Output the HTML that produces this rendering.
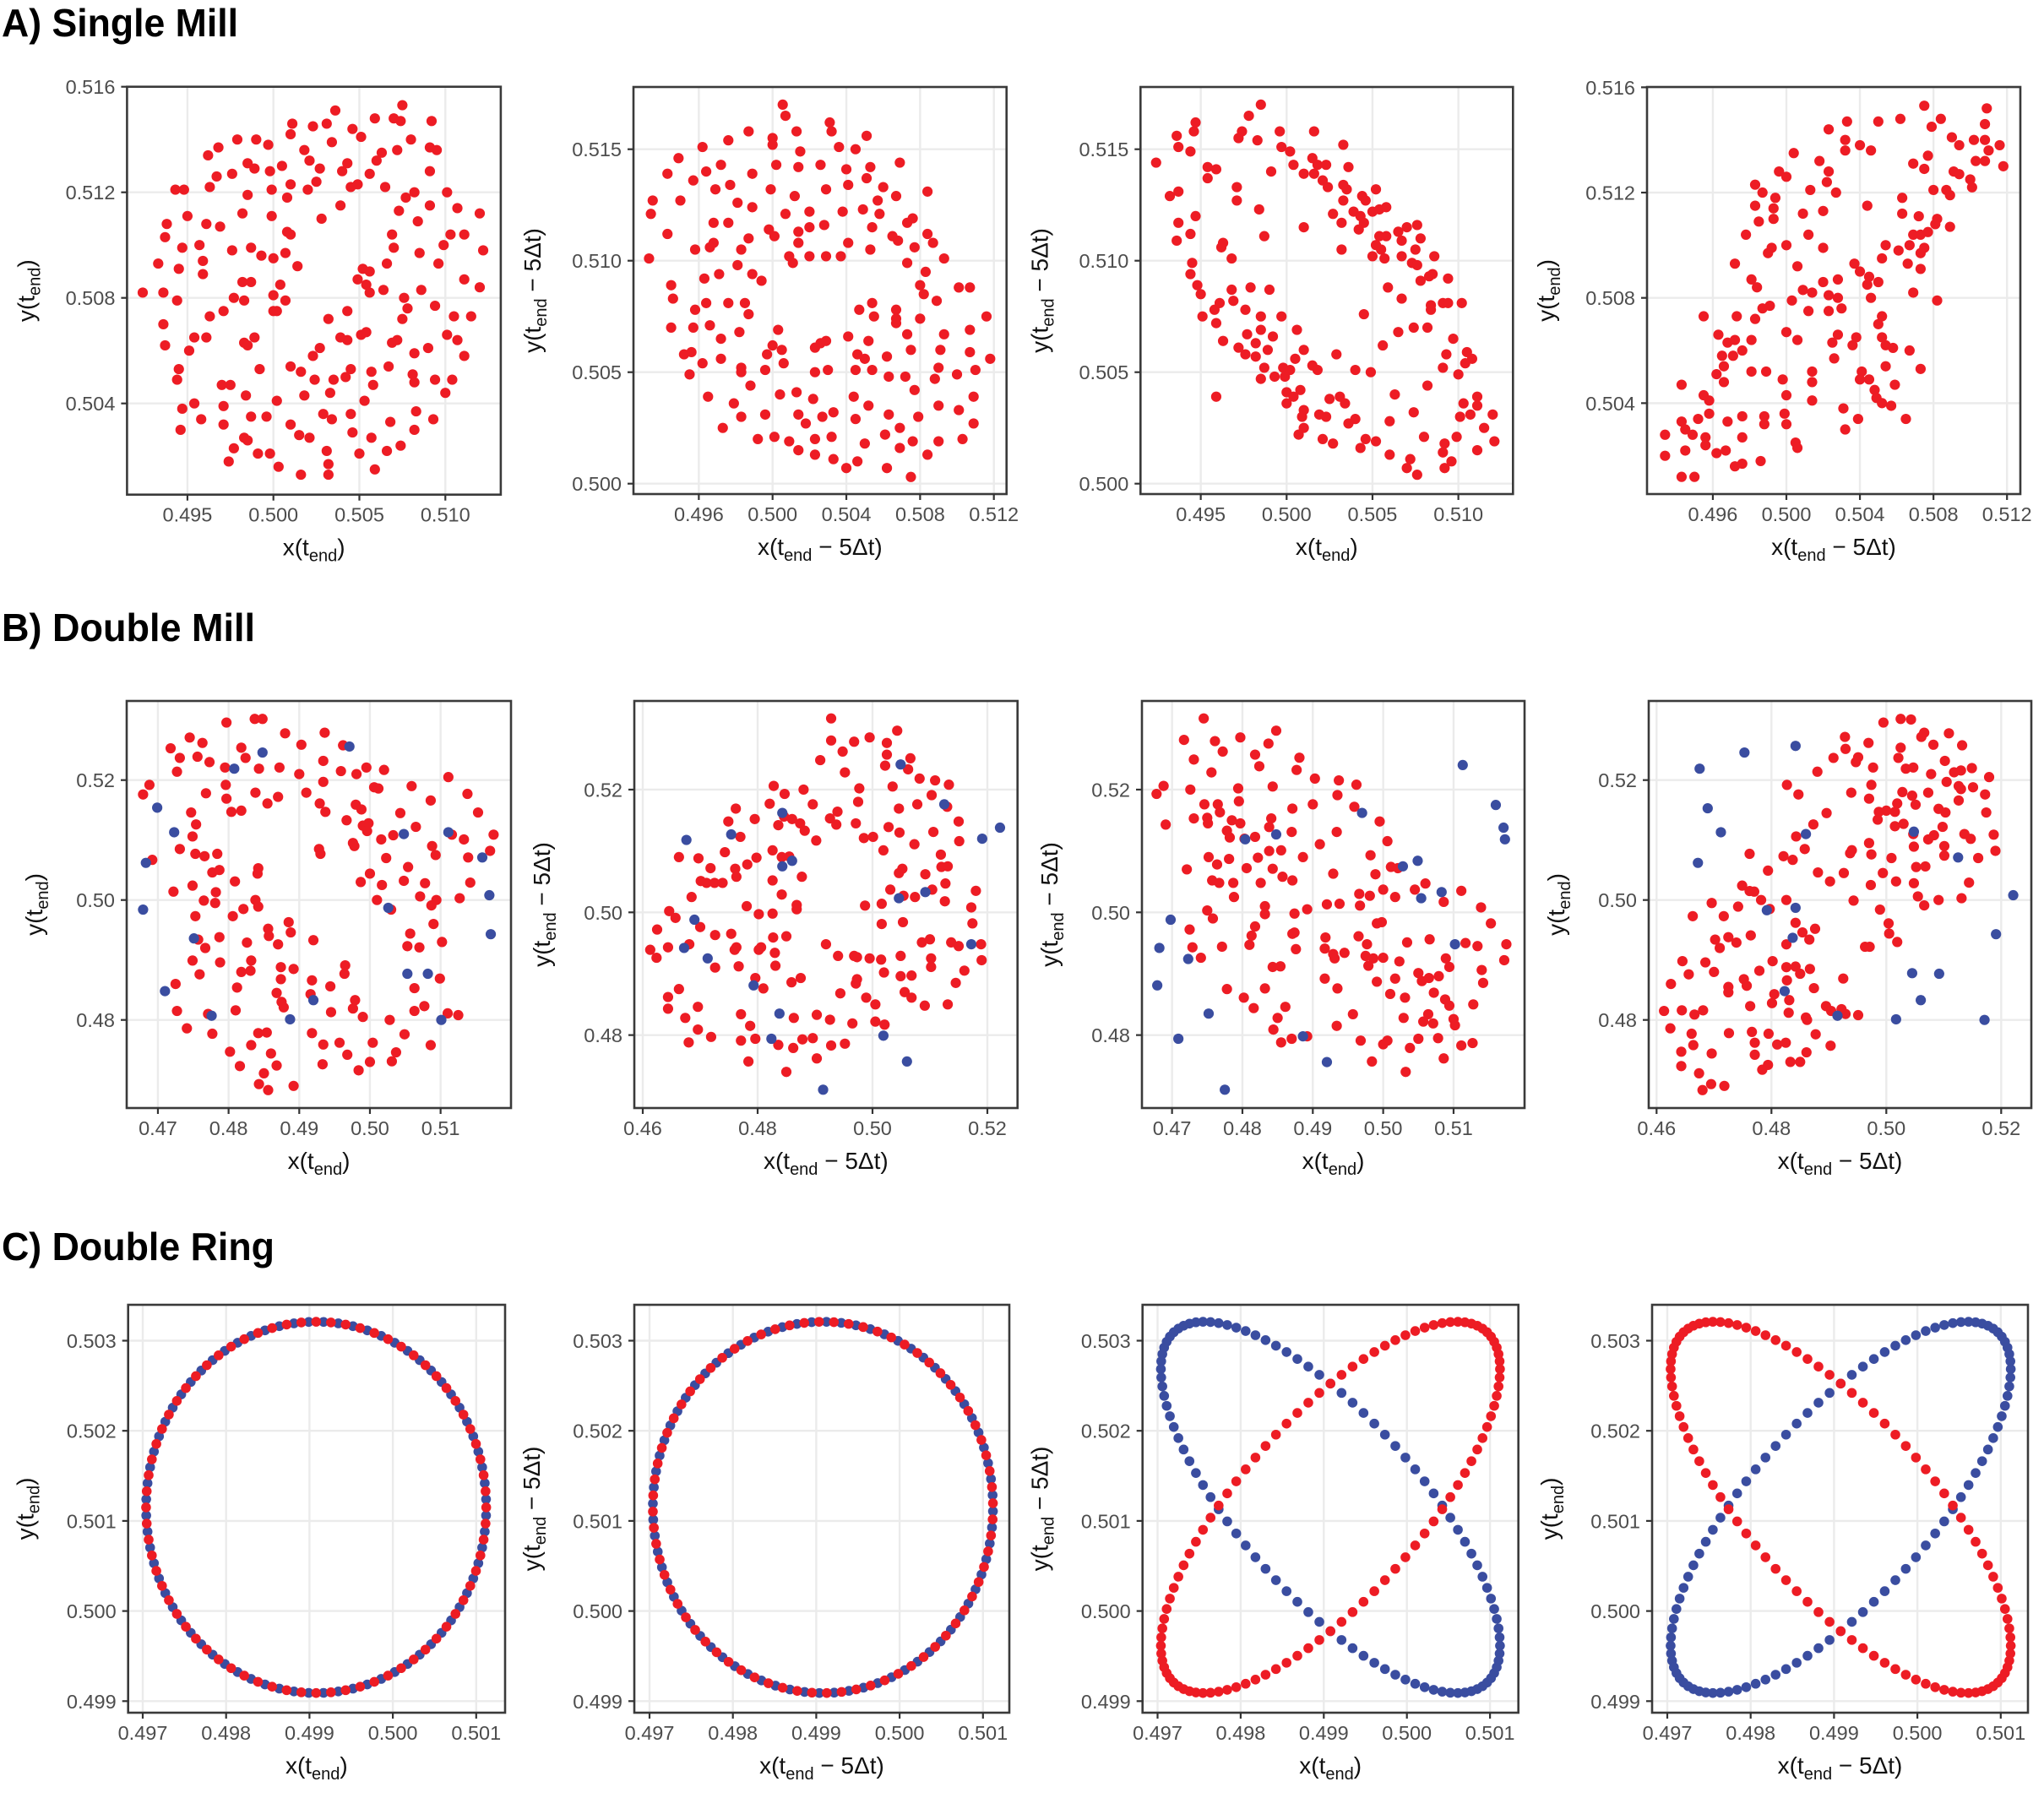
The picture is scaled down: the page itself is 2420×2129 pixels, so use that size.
<!DOCTYPE html>
<html><head><meta charset="utf-8"><style>
html,body{margin:0;padding:0;background:#fff}
svg{display:block}
text{font-family:"Liberation Sans",Arial,sans-serif}
</style></head><body>
<svg id="fig" width="2420" height="2129" viewBox="0 0 2420 2129" xmlns="http://www.w3.org/2000/svg">
<rect x="0" y="0" width="2420" height="2129" fill="#fff"/>
<text x="2" y="43" font-size="46" font-weight="bold" textLength="280" lengthAdjust="spacingAndGlyphs">A) Single Mill</text>
<text x="2" y="759" font-size="46" font-weight="bold" textLength="300" lengthAdjust="spacingAndGlyphs">B) Double Mill</text>
<text x="2" y="1492" font-size="46" font-weight="bold" textLength="323" lengthAdjust="spacingAndGlyphs">C) Double Ring</text>
<g id="panels"></g>
</svg>
<script>
// ---------- DATA ----------
const a1Red=[[.4924,.5082],[.4933,.5093],[.4936,.5082],[.4936,.5070],[.4937,.5062],[.4937,.5103],[.4938,.5108],[.4944,.5079],[.4945,.5091],[.4947,.5099],[.4943,.5121],[.4948,.5121],[.4950,.5111],[.4945,.5053],[.4944,.5049],[.4947,.5038],[.4946,.5030],[.4954,.5040],[.4958,.5034],[.4951,.5060],[.4954,.5065],[.4961,.5065],[.4963,.5073],[.4959,.5089],[.4959,.5094],[.4957,.5100],[.4961,.5108],[.4963,.5122],[.4962,.5134],[.4968,.5137],[.4967,.5126],[.4969,.5107],[.4976,.5098],[.4976,.5127],[.4979,.5140],[.4985,.5131],[.4989,.5129],[.4985,.5119],[.4982,.5112],[.4990,.5140],[.4997,.5138],[.4998,.5128],[.4999,.5121],[.4999,.5111],[.4987,.5099],[.4993,.5096],[.5000,.5095],[.5007,.5097],[.5005,.5130],[.5010,.5142],[.5011,.5146],[.5010,.5123],[.5008,.5118],[.5008,.5105],[.5010,.5104],[.5014,.5092],[.5018,.5136],[.5023,.5145],[.5021,.5132],[.5027,.5129],[.5025,.5124],[.5020,.5121],[.5028,.5110],[.5031,.5146],[.5034,.5139],[.5036,.5151],[.5039,.5115],[.5040,.5128],[.5043,.5131],[.5046,.5144],[.5051,.5141],[.5045,.5122],[.5049,.5123],[.5056,.5127],[.5060,.5132],[.5063,.5135],[.5059,.5148],[.5065,.5122],[.5070,.5148],[.5074,.5147],[.5075,.5153],[.5072,.5136],[.5080,.5140],[.5077,.5118],[.5082,.5120],[.5073,.5113],[.5069,.5104],[.5070,.5099],[.5084,.5109],[.5091,.5137],[.5095,.5136],[.5092,.5147],[.5091,.5128],[.5091,.5115],[.5101,.5120],[.5107,.5114],[.5120,.5112],[.5103,.5104],[.5111,.5104],[.5099,.5100],[.5096,.5093],[.5122,.5098],[.5111,.5087],[.5120,.5084],[.5086,.5083],[.5085,.5097],[.5066,.5093],[.5064,.5083],[.5052,.5091],[.5056,.5090],[.5049,.5087],[.5054,.5085],[.5056,.5082],[.5076,.5080],[.5078,.5076],[.5075,.5072],[.5069,.5063],[.5072,.5064],[.5094,.5077],[.5105,.5073],[.5115,.5073],[.5101,.5066],[.5107,.5064],[.5111,.5058],[.5090,.5061],[.5082,.5059],[.5081,.5051],[.5082,.5048],[.5094,.5049],[.5104,.5049],[.5100,.5044],[.5083,.5037],[.5093,.5034],[.5082,.5030],[.5074,.5024],[.5066,.5022],[.5068,.5033],[.5067,.5054],[.5057,.5052],[.5058,.5047],[.5053,.5041],[.5051,.5066],[.5054,.5067],[.5043,.5075],[.5043,.5064],[.5039,.5065],[.5045,.5053],[.5042,.5050],[.5045,.5036],[.5046,.5029],[.5057,.5027],[.5050,.5021],[.5059,.5015],[.5035,.5049],[.5033,.5044],[.5032,.5072],[.5027,.5061],[.5023,.5058],[.5024,.5049],[.5018,.5043],[.5016,.5052],[.5010,.5054],[.5002,.5041],[.4996,.5035],[.4987,.5035],[.4984,.5043],[.4975,.5047],[.4971,.5039],[.4971,.5032],[.4970,.5047],[.4977,.5023],[.4974,.5018],[.4983,.5027],[.4985,.5026],[.4991,.5021],[.4998,.5021],[.5003,.5016],[.5010,.5032],[.5015,.5028],[.5021,.5027],[.5029,.5036],[.5034,.5034],[.5031,.5022],[.5032,.5017],[.5032,.5013],[.5016,.5013],[.4992,.5053],[.4989,.5065],[.4983,.5063],[.4985,.5062],[.4983,.5079],[.4977,.5080],[.4971,.5075],[.4982,.5086],[.4987,.5086],[.5000,.5081],[.5000,.5075],[.5002,.5075],[.5004,.5085],[.5007,.5079]];
const a2Red=[[.50055,.5170],[.5007,.5165],[.4987,.5158],[.4976,.5154],[.4962,.5151],[.4949,.5146],[.4943,.5139],[.4935,.5127],[.4934,.5121],[.4943,.5112],[.4933,.5101],[.4957,.5136],[.4950,.5127],[.4964,.5140],[.4972,.5143],[.4969,.5132],[.4977,.5134],[.4981,.5126],[.4989,.5139],[.4989,.5124],[.4968,.5117],[.4976,.5117],[.4968,.5108],[.4966,.5106],[.4958,.5105],[.4983,.5105],[.4987,.5110],[.4981,.5098],[.4971,.5094],[.4963,.5092],[.4989,.5094],[.4994,.5091],[.4945,.5089],[.4946,.5083],[.4958,.5078],[.4964,.5081],[.4976,.5081],[.4985,.5081],[.4987,.5076],[.4945,.5070],[.4957,.5070],[.4966,.5071],[.4982,.5068],[.4972,.5065],[.4952,.5058],[.4956,.5059],[.4962,.5054],[.4972,.5056],[.4983,.5052],[.4983,.5050],[.4955,.5049],[.4996,.5051],[.4997,.5058],[.5000,.5062],[.5003,.5069],[.5005,.5060],[.5006,.5054],[.4988,.5044],[.4965,.5039],[.4979,.5036],[.4983,.5030],[.4973,.5025],[.4996,.5031],[.4992,.5020],[.5001,.5021],[.5004,.5040],[.5013,.5041],[.5022,.5038],[.5014,.5031],[.5018,.5027],[.5009,.5019],[.5014,.5015],[.5023,.5020],[.5023,.5013],[.5027,.5030],[.5033,.5032],[.5032,.5021],[.5033,.5011],[.5040,.5007],[.5046,.5010],[.5050,.5018],[.5045,.5029],[.5044,.5039],[.5052,.5035],[.5063,.5031],[.5061,.5022],[.5062,.5007],[.5069,.5025],[.5069,.5016],[.5075,.5003],[.5076,.5019],[.5079,.5030],[.5077,.5042],[.5084,.5013],[.5090,.5019],[.5090,.5035],[.5088,.5047],[.5090,.5052],[.5091,.5060],[.5093,.5067],[.5101,.5033],[.5103,.5020],[.5109,.5027],[.5109,.5039],[.5100,.5049],[.5110,.5051],[.5107,.5059],[.5118,.5056],[.5107,.5069],[.5116,.5075],[.5075,.5060],[.5072,.5048],[.5063,.5048],[.5062,.5057],[.5054,.5051],[.5050,.5056],[.5046,.5058],[.5045,.5051],[.5052,.5064],[.5041,.5066],[.5023,.5061],[.5026,.5063],[.5029,.5064],[.5023,.5050],[.5030,.5051],[.5047,.5078],[.5054,.5081],[.5055,.5075],[.5067,.5078],[.5067,.5074],[.5067,.5072],[.5073,.5067],[.5080,.5074],[.5080,.5089],[.5082,.5085],[.5089,.5082],[.5083,.5095],[.5073,.5099],[.5077,.5106],[.5093,.5101],[.5101,.5088],[.5107,.5088],[.5065,.5111],[.5068,.5109],[.5073,.5117],[.5076,.5119],[.5084,.5112],[.5087,.5108],[.5084,.5131],[.5067,.5129],[.5069,.5144],[.5060,.5133],[.5057,.5127],[.5058,.5121],[.5054,.5115],[.5053,.5105],[.5051,.5137],[.5053,.5142],[.5051,.5156],[.5045,.5150],[.5036,.5151],[.5031,.5162],[.5032,.5158],[.5040,.5141],[.5041,.5134],[.5029,.5132],[.5026,.5143],[.5038,.5122],[.5049,.5123],[.5041,.5108],[.5037,.5102],[.5029,.5102],[.5020,.5102],[.5028,.5116],[.5020,.5122],[.5020,.5115],[.5014,.5113],[.5014,.5108],[.5009,.5102],[.5011,.5099],[.5007,.5121],[.5012,.5129],[.5014,.5142],[.5015,.5149],[.5013,.5158],[.5002,.5143],[.4999,.5132],[.5000,.5155],[.5000,.5152],[.4998,.5114],[.5001,.5111]];
const a3Red=[[.4985,.5170],[.4978,.5165],[.4947,.5162],[.4946,.5158],[.4936,.5156],[.4937,.5151],[.4944,.5149],[.4924,.5144],[.4954,.5142],[.4959,.5141],[.4954,.5137],[.4974,.5158],[.4972,.5155],[.4983,.5154],[.4991,.5140],[.4996,.5158],[.4997,.5151],[.5002,.5149],[.5004,.5143],[.5010,.5139],[.5016,.5158],[.5015,.5146],[.5018,.5143],[.5023,.5143],[.5016,.5139],[.5021,.5136],[.5024,.5133],[.5033,.5134],[.5035,.5132],[.5036,.5142],[.5033,.5152],[.5033,.5127],[.5044,.5129],[.5046,.5127],[.5052,.5132],[.5027,.5121],[.5032,.5117],[.5039,.5122],[.5043,.5120],[.5045,.5117],[.5042,.5114],[.5050,.5122],[.5054,.5123],[.5058,.5124],[.5010,.5115],[.5032,.5105],[.5054,.5111],[.5058,.5111],[.5052,.5107],[.5055,.5105],[.5050,.5102],[.5057,.5101],[.5065,.5113],[.5070,.5115],[.5076,.5116],[.5078,.5110],[.5067,.5109],[.5067,.5102],[.5075,.5105],[.5073,.5099],[.5076,.5098],[.5086,.5102],[.5078,.5091],[.5083,.5093],[.5085,.5094],[.5094,.5092],[.5059,.5088],[.5067,.5083],[.5084,.5080],[.5084,.5078],[.5091,.5081],[.5094,.5081],[.5102,.5081],[.5045,.5076],[.5065,.5068],[.5074,.5070],[.5082,.5070],[.5056,.5062],[.5097,.5065],[.5093,.5058],[.5105,.5059],[.5108,.5056],[.5104,.5054],[.5091,.5052],[.5100,.5049],[.5029,.5058],[.5040,.5051],[.5049,.5050],[.5082,.5044],[.5063,.5040],[.5074,.5032],[.5103,.5036],[.5111,.5039],[.5111,.5035],[.5101,.5030],[.5107,.5031],[.5120,.5031],[.5115,.5025],[.5121,.5019],[.5099,.5021],[.5111,.5015],[.5092,.5018],[.5091,.5014],[.5096,.5010],[.5092,.5007],[.5080,.5021],[.5072,.5011],[.5070,.5007],[.5076,.5004],[.5060,.5013],[.5060,.5028],[.5052,.5019],[.5046,.5020],[.5043,.5016],[.5040,.5029],[.5036,.5027],[.5034,.5036],[.5031,.5039],[.5025,.5038],[.5019,.5031],[.5023,.5030],[.5021,.5020],[.5027,.5018],[.5010,.5033],[.5009,.5030],[.5010,.5025],[.5007,.5022],[.5008,.5042],[.5000,.5041],[.5004,.5039],[.5000,.5036],[.5010,.5060],[.5015,.5053],[.5018,.5051],[.5005,.5056],[.4998,.5052],[.5002,.5051],[.4999,.5048],[.4993,.5048],[.4987,.5052],[.4985,.5047],[.5006,.5069],[.4997,.5075],[.4992,.5066],[.4989,.5060],[.4982,.5057],[.4982,.5063],[.4985,.5069],[.4985,.5075],[.4977,.5067],[.4976,.5058],[.4972,.5061],[.4963,.5064],[.4959,.5039],[.4959,.5072],[.4951,.5075],[.4958,.5078],[.4961,.5081],[.4969,.5082],[.4976,.5078],[.4968,.5087],[.4979,.5088],[.4990,.5087],[.4950,.5085],[.4948,.5089],[.4944,.5094],[.4945,.5099],[.4968,.5101],[.4962,.5106],[.4963,.5108],[.4936,.5109],[.4944,.5112],[.4937,.5117],[.4947,.5120],[.4932,.5129],[.4937,.5131],[.4971,.5133],[.4971,.5127],[.4984,.5123],[.4987,.5111]];
const a4Red=[[.5075,.5153],[.5109,.5152],[.5108,.5146],[.5084,.5148],[.5079,.5145],[.5062,.5148],[.5050,.5147],[.5033,.5147],[.5023,.5144],[.5032,.5140],[.5032,.5136],[.5040,.5138],[.5046,.5136],[.5090,.5141],[.5094,.5138],[.5102,.5140],[.5108,.5140],[.5110,.5136],[.5116,.5138],[.5118,.5130],[.5103,.5132],[.5108,.5132],[.5077,.5134],[.5069,.5131],[.5075,.5129],[.5091,.5128],[.5094,.5127],[.5100,.5125],[.5101,.5122],[.5080,.5121],[.5087,.5121],[.5089,.5119],[.5004,.5135],[.5018,.5132],[.5023,.5128],[.5022,.5124],[.5027,.5120],[.5013,.5121],[.4996,.5128],[.5000,.5126],[.4983,.5123],[.4987,.5120],[.4994,.5118],[.4983,.5115],[.4993,.5114],[.4993,.5110],[.4985,.5109],[.5009,.5112],[.5020,.5113],[.5012,.5104],[.4978,.5104],[.5000,.5100],[.4990,.5097],[.4992,.5099],[.5020,.5099],[.5044,.5115],[.5063,.5118],[.5063,.5112],[.5072,.5111],[.5082,.5110],[.5081,.5108],[.5089,.5107],[.5077,.5105],[.5069,.5104],[.5073,.5104],[.5067,.5100],[.5075,.5099],[.5073,.5097],[.5054,.5100],[.5052,.5095],[.5061,.5098],[.5066,.5093],[.5073,.5091],[.5037,.5093],[.5040,.5090],[.5045,.5088],[.5044,.5085],[.5050,.5086],[.5046,.5080],[.5069,.5082],[.5082,.5079],[.5028,.5087],[.5020,.5086],[.5009,.5083],[.5014,.5082],[.5023,.5081],[.5028,.5080],[.5030,.5076],[.5023,.5075],[.5012,.5075],[.5003,.5079],[.5006,.5092],[.4972,.5093],[.4981,.5087],[.4984,.5084],[.4991,.5077],[.4987,.5076],[.4983,.5072],[.4973,.5073],[.4955,.5073],[.4963,.5066],[.4968,.5063],[.4972,.5064],[.4976,.5060],[.4981,.5064],[.4965,.5058],[.4971,.5058],[.4966,.5054],[.4962,.5051],[.4966,.5048],[.4981,.5052],[.4989,.5052],[.4943,.5047],[.4955,.5043],[.4958,.5041],[.4958,.5036],[.4952,.5034],[.4943,.5033],[.4945,.5030],[.4949,.5028],[.4934,.5028],[.4934,.5020],[.4945,.5022],[.4956,.5027],[.4956,.5024],[.4962,.5021],[.4967,.5022],[.4968,.5033],[.4976,.5035],[.4976,.5027],[.4972,.5016],[.4976,.5017],[.4986,.5018],[.4943,.5012],[.4950,.5012],[.4988,.5035],[.4988,.5032],[.4999,.5036],[.5000,.5032],[.5005,.5025],[.5006,.5023],[.4998,.5049],[.5000,.5043],[.5014,.5041],[.5014,.5052],[.5014,.5048],[.5000,.5067],[.5006,.5064],[.5026,.5057],[.5025,.5063],[.5028,.5066],[.5038,.5065],[.5036,.5062],[.5031,.5038],[.5032,.5030],[.5039,.5034],[.5041,.5052],[.5040,.5049],[.5045,.5049],[.5048,.5045],[.5049,.5042],[.5052,.5040],[.5057,.5039],[.5059,.5047],[.5065,.5034],[.5054,.5054],[.5073,.5053],[.5067,.5060],[.5058,.5061],[.5054,.5062],[.5052,.5065],[.5050,.5070],[.5052,.5073]];

const b1Red=[[.4797,.5296],[.4837,.5302],[.4848,.5302],[.4880,.5278],[.4936,.5279],[.4903,.5259],[.4962,.5258],[.4745,.5271],[.4763,.5262],[.4718,.5253],[.4731,.5237],[.4756,.5239],[.4773,.5230],[.4727,.5214],[.4818,.5254],[.4824,.5237],[.4795,.5221],[.4843,.5219],[.4872,.5221],[.4900,.5210],[.4934,.5232],[.4934,.5197],[.4959,.5215],[.4981,.5210],[.4995,.5221],[.5020,.5217],[.4688,.5192],[.4679,.5176],[.4768,.5178],[.4796,.5192],[.4797,.5169],[.4804,.5147],[.4818,.5149],[.4838,.5179],[.4855,.5161],[.4870,.5172],[.4910,.5179],[.4929,.5161],[.4937,.5147],[.4967,.5133],[.4980,.5159],[.4988,.5151],[.5006,.5188],[.5012,.5186],[.5059,.5190],[.5111,.5205],[.5138,.5177],[.5086,.5166],[.5153,.5146],[.5043,.5145],[.5065,.5122],[.5033,.5108],[.5016,.5101],[.4990,.5124],[.4998,.5128],[.4996,.5115],[.4976,.5095],[.4978,.5090],[.4928,.5085],[.4930,.5077],[.5116,.5109],[.5133,.5101],[.5175,.5109],[.5170,.5082],[.5139,.5071],[.5088,.5090],[.5093,.5075],[.5023,.5070],[.5054,.5055],[.5000,.5044],[.4987,.5030],[.5017,.5025],[.5048,.5032],[.5078,.5028],[.5142,.5029],[.5071,.5006],[.5094,.5000],[.5087,.4991],[.5127,.5003],[.5010,.5000],[.5030,.4984],[.5090,.4960],[.5057,.4944],[.5053,.4923],[.5070,.4921],[.5102,.4930],[.5099,.4869],[.5063,.4853],[.5077,.4823],[.5063,.4815],[.5110,.4811],[.5125,.4808],[.5049,.4776],[.5086,.4758],[.5037,.4746],[.5031,.4731],[.5028,.4800],[.5000,.4730],[.5004,.4762],[.4984,.4716],[.4968,.4742],[.4957,.4762],[.4933,.4726],[.4934,.4759],[.4918,.4778],[.4990,.4805],[.4945,.4813],[.4976,.4819],[.4979,.4833],[.4944,.4856],[.4918,.4866],[.4916,.4843],[.4965,.4891],[.4964,.4877],[.4920,.4933],[.4892,.4885],[.4874,.4888],[.4874,.4868],[.4868,.4845],[.4875,.4830],[.4878,.4821],[.4885,.4963],[.4888,.4946],[.4856,.4952],[.4857,.4940],[.4870,.4926],[.4826,.4929],[.4832,.4899],[.4831,.4882],[.4818,.4880],[.4812,.4854],[.4810,.4816],[.4842,.4778],[.4854,.4779],[.4832,.4758],[.4860,.4744],[.4868,.4724],[.4850,.4711],[.4843,.4693],[.4856,.4683],[.4892,.4690],[.4816,.4723],[.4802,.4747],[.4777,.4777],[.4771,.4810],[.4741,.4786],[.4727,.4815],[.4725,.4860],[.4759,.4876],[.4749,.4899],[.4788,.4896],[.4767,.4920],[.4757,.4934],[.4787,.4938],[.4753,.4973],[.4806,.4973],[.4821,.4985],[.4838,.5000],[.4842,.4989],[.4765,.4999],[.4781,.4995],[.4782,.5013],[.4749,.5024],[.4722,.5014],[.4809,.5031],[.4842,.5053],[.4841,.5044],[.4777,.5046],[.4787,.5050],[.4784,.5077],[.4753,.5077],[.4766,.5073],[.4731,.5085],[.4749,.5106],[.4754,.5126],[.4747,.5146],[.4692,.5067]];
const b1Blue=[[.4848,.5246],[.4808,.5219],[.4971,.5256],[.4699,.5154],[.4723,.5113],[.4683,.5062],[.4679,.4984],[.4751,.4936],[.4710,.4848],[.4776,.4807],[.4887,.4801],[.4920,.4833],[.5048,.5110],[.5111,.5113],[.5159,.5071],[.5169,.5008],[.5171,.4943],[.5026,.4987],[.5053,.4877],[.5082,.4877],[.5101,.4800]];
const b2Red=[[.4928,.5316],[.4928,.5280],[.4968,.5278],[.4995,.5285],[.5043,.5296],[.5025,.5276],[.5025,.5257],[.5022,.5239],[.5066,.5251],[.5062,.5233],[.4948,.5262],[.4909,.5248],[.4952,.5228],[.5082,.5218],[.5109,.5215],[.5133,.5208],[.5103,.5191],[.5035,.5205],[.4977,.5202],[.4975,.5180],[.4828,.5206],[.4847,.5193],[.4880,.5200],[.4821,.5177],[.4896,.5176],[.5078,.5176],[.5130,.5172],[.5046,.5169],[.4762,.5169],[.4795,.5152],[.4749,.5148],[.4770,.5123],[.4846,.5156],[.4860,.5152],[.4874,.5145],[.4882,.5133],[.4836,.5142],[.4902,.5117],[.4926,.5153],[.4939,.5164],[.4937,.5143],[.4971,.5145],[.4985,.5121],[.5001,.5123],[.5028,.5139],[.5047,.5130],[.5019,.5101],[.5073,.5111],[.5106,.5131],[.5150,.5148],[.5151,.5116],[.5119,.5094],[.5120,.5074],[.5131,.5075],[.5092,.5062],[.5046,.5064],[.5052,.5071],[.5031,.5037],[.5054,.5027],[.5074,.5025],[.5104,.5037],[.5127,.5047],[.5126,.5018],[.5180,.5035],[.5172,.5008],[.5174,.4982],[.5189,.4948],[.5190,.4922],[.5160,.4905],[.5145,.4885],[.5131,.4850],[.5091,.4848],[.5137,.4951],[.5150,.4945],[.5086,.4951],[.5100,.4956],[.5102,.4925],[.5102,.4911],[.5068,.4897],[.5049,.4896],[.5049,.4929],[.5056,.4870],[.5068,.4861],[.5053,.4984],[.5016,.4981],[.4987,.5011],[.5016,.5014],[.5020,.4902],[.5015,.4923],[.4995,.4925],[.4973,.4927],[.4968,.4929],[.4940,.4929],[.4919,.4948],[.4973,.4891],[.4971,.4884],[.4944,.4868],[.4989,.4861],[.5005,.4850],[.5005,.4822],[.5021,.4817],[.4965,.4819],[.4926,.4825],[.4903,.4833],[.4875,.4893],[.4859,.4886],[.4863,.4828],[.4896,.4795],[.4878,.4793],[.4862,.4779],[.4836,.4784],[.4928,.4783],[.4952,.4786],[.4903,.4762],[.4850,.4740],[.4784,.4757],[.4796,.4794],[.4771,.4791],[.4771,.4834],[.4787,.4815],[.4719,.4797],[.4680,.4788],[.4696,.4809],[.4696,.4846],[.4674,.4828],[.4644,.4843],[.4644,.4862],[.4663,.4875],[.4810,.4876],[.4796,.4893],[.4767,.4912],[.4726,.4910],[.4831,.4913],[.4830,.4934],[.4802,.4939],[.4806,.4943],[.4760,.4939],[.4763,.4943],[.4754,.4965],[.4726,.4963],[.4700,.4976],[.4681,.4948],[.4644,.4943],[.4624,.4926],[.4613,.4939],[.4625,.4972],[.4646,.5002],[.4657,.4991],[.4685,.5025],[.4701,.5051],[.4711,.5048],[.4725,.5048],[.4739,.5048],[.4718,.5072],[.4697,.5088],[.4663,.5090],[.4743,.5098],[.4761,.5071],[.4763,.5058],[.4782,.5078],[.4798,.5089],[.4826,.5101],[.4842,.5090],[.4855,.5091],[.4826,.5052],[.4842,.5029],[.4877,.5058],[.4868,.5012],[.4868,.5005],[.4781,.5010],[.4802,.4997],[.4826,.4998],[.4827,.4959],[.4850,.4961]];
const b2Blue=[[.4676,.5118],[.4754,.5127],[.4843,.5162],[.4843,.5075],[.4860,.5084],[.4690,.4988],[.4672,.4942],[.4713,.4925],[.4793,.4881],[.4838,.4835],[.4824,.4794],[.4914,.4711],[.5019,.4799],[.5060,.4757],[.5049,.5241],[.5125,.5176],[.5191,.5120],[.5222,.5138],[.5092,.5033],[.5046,.5023],[.5172,.4948]];
const b3Red=[[.4745,.5316],[.4717,.5281],[.4761,.5279],[.4772,.5262],[.4731,.5249],[.4756,.5228],[.4797,.5285],[.4848,.5296],[.4837,.5275],[.4818,.5257],[.4824,.5238],[.4881,.5252],[.4877,.5232],[.4903,.5218],[.4937,.5215],[.4962,.5208],[.4935,.5191],[.4900,.5176],[.4959,.5172],[.4995,.5148],[.5006,.5116],[.4934,.5131],[.4910,.5111],[.4871,.5169],[.4870,.5131],[.4843,.5205],[.4794,.5202],[.4795,.5181],[.4688,.5206],[.4678,.5193],[.4726,.5200],[.4691,.5143],[.4731,.5153],[.4746,.5176],[.4765,.5176],[.4768,.5163],[.4750,.5154],[.4751,.5145],[.4785,.5150],[.4797,.5145],[.4778,.5133],[.4782,.5122],[.4803,.5120],[.4818,.5123],[.4841,.5153],[.4838,.5139],[.4838,.5100],[.4855,.5101],[.4886,.5090],[.4752,.5090],[.4764,.5078],[.4781,.5087],[.4822,.5089],[.4806,.5072],[.4843,.5071],[.4857,.5058],[.4871,.5052],[.4721,.5070],[.4757,.5052],[.4767,.5048],[.4787,.5048],[.4826,.5048],[.4788,.5025],[.4929,.5063],[.4982,.5093],[.4989,.5062],[.5011,.5074],[.5021,.5072],[.5060,.5047],[.5045,.5037],[.5017,.5025],[.5000,.5037],[.4981,.5027],[.4966,.5030],[.4967,.5011],[.4938,.5014],[.4920,.5013],[.4892,.5005],[.4874,.4998],[.4832,.5010],[.4832,.4997],[.4750,.5003],[.4758,.4990],[.5086,.5017],[.5111,.5035],[.5139,.5008],[.5153,.4982],[.5175,.4948],[.5172,.4922],[.5134,.4945],[.5117,.4950],[.5066,.4956],[.5034,.4951],[.5023,.4920],[.5089,.4925],[.5094,.4911],[.5079,.4896],[.5050,.4901],[.5055,.4888],[.5065,.4893],[.5017,.4892],[.4991,.4887],[.5010,.4867],[.5031,.4861],[.5072,.4869],[.5088,.4858],[.5094,.4848],[.5140,.4906],[.5142,.4885],[.5128,.4850],[.5100,.4826],[.5102,.4816],[.5064,.4834],[.5071,.4819],[.5057,.4822],[.5029,.4828],[.5078,.4795],[.5050,.4794],[.5038,.4779],[.5111,.4783],[.5127,.4787],[.5086,.4762],[.5032,.4740],[.4984,.4757],[.5000,.4785],[.5006,.4791],[.4968,.4791],[.4957,.4834],[.4934,.4815],[.4935,.4876],[.4917,.4892],[.4917,.4941],[.4918,.4959],[.4929,.4932],[.4931,.4925],[.4945,.4934],[.4965,.4961],[.4977,.4948],[.4975,.4929],[.4986,.4925],[.5000,.4926],[.4979,.4913],[.4991,.4982],[.4998,.4984],[.4876,.4940],[.4871,.4965],[.4874,.4967],[.4843,.4911],[.4854,.4912],[.4832,.4876],[.4802,.4861],[.4816,.4844],[.4778,.4875],[.4861,.4846],[.4850,.4828],[.4844,.4809],[.4855,.4788],[.4870,.4794],[.4892,.4798],[.4810,.4947],[.4813,.4962],[.4818,.4977],[.4771,.4944],[.4725,.4972],[.4729,.4943],[.4741,.4926]];
const b3Blue=[[.4698,.4988],[.4682,.4942],[.4723,.4924],[.4679,.4881],[.4752,.4835],[.4709,.4794],[.4775,.4711],[.4886,.4798],[.4920,.4756],[.4804,.5119],[.4848,.5127],[.4970,.5162],[.5028,.5075],[.5049,.5084],[.5054,.5023],[.5083,.5033],[.5102,.4948],[.5113,.5240],[.5160,.5175],[.5171,.5138],[.5173,.5119]];
const b4Red=[[.4995,.5296],[.5025,.5302],[.5043,.5301],[.5066,.5279],[.5061,.5272],[.5109,.5278],[.5082,.5259],[.5132,.5258],[.5025,.5254],[.5021,.5237],[.5034,.5219],[.5047,.5221],[.5102,.5232],[.5078,.5210],[.5118,.5213],[.5130,.5216],[.5149,.5220],[.5179,.5205],[.5105,.5197],[.5126,.5190],[.5130,.5185],[.5151,.5188],[.5172,.5176],[.5073,.5179],[.5028,.5180],[.5045,.5174],[.5051,.5159],[.5019,.5161],[.5126,.5166],[.5174,.5146],[.5091,.5152],[.5103,.5146],[.5098,.5122],[.5083,.5108],[.5073,.5101],[.5047,.5110],[.5048,.5089],[.5101,.5090],[.5101,.5074],[.5136,.5110],[.5147,.5102],[.5187,.5109],[.5190,.5082],[.5160,.5070],[.5052,.5055],[.5068,.5056],[.5048,.5028],[.5055,.5006],[.5066,.4991],[.5091,.5000],[.5131,.5003],[.5144,.5029],[.5017,.5031],[.4994,.5045],[.5009,.5070],[.4974,.5076],[.4970,.5095],[.4973,.5025],[.4940,.5083],[.4937,.5078],[.4926,.5045],[.4902,.5031],[.4881,.5046],[.4943,.4999],[.4989,.4984],[.5004,.4961],[.5005,.4944],[.5019,.4930],[.4971,.4922],[.4963,.4922],[.4987,.5147],[.5000,.5149],[.5015,.5147],[.4985,.5134],[.5015,.5123],[.5030,.5127],[.4977,.5221],[.4969,.5262],[.4928,.5272],[.4929,.5252],[.4951,.5238],[.4947,.5230],[.4908,.5237],[.4880,.5214],[.4974,.5192],[.4970,.5169],[.4939,.5179],[.4827,.5192],[.4847,.5176],[.4896,.5145],[.4873,.5126],[.4843,.5106],[.4858,.5085],[.4821,.5073],[.4837,.5067],[.4794,.5049],[.4762,.5077],[.4749,.5024],[.4762,.5015],[.4770,.5014],[.4782,.5000],[.4797,.4985],[.4826,.5000],[.4742,.4989],[.4696,.4995],[.4663,.4973],[.4717,.4973],[.4842,.4962],[.4854,.4946],[.4876,.4952],[.4866,.4934],[.4826,.4926],[.4764,.4941],[.4725,.4938],[.4739,.4929],[.4702,.4934],[.4710,.4920],[.4645,.4898],[.4656,.4876],[.4685,.4896],[.4700,.4880],[.4625,.4860],[.4779,.4882],[.4802,.4898],[.4826,.4888],[.4842,.4889],[.4850,.4877],[.4867,.4885],[.4827,.4866],[.4752,.4868],[.4757,.4857],[.4725,.4855],[.4725,.4846],[.4805,.4843],[.4801,.4828],[.4831,.4833],[.4830,.4812],[.4874,.4853],[.4925,.4869],[.4895,.4823],[.4904,.4815],[.4922,.4818],[.4929,.4810],[.4951,.4808],[.4860,.4804],[.4862,.4800],[.4763,.4823],[.4681,.4816],[.4666,.4809],[.4644,.4816],[.4613,.4815],[.4624,.4786],[.4661,.4777],[.4726,.4778],[.4766,.4780],[.4795,.4777],[.4771,.4762],[.4810,.4759],[.4825,.4762],[.4877,.4776],[.4903,.4757],[.4861,.4746],[.4833,.4730],[.4850,.4730],[.4794,.4725],[.4784,.4717],[.4771,.4742],[.4664,.4758],[.4643,.4747],[.4696,.4744],[.4643,.4723],[.4674,.4711],[.4695,.4693],[.4680,.4683],[.4718,.4690]];
const b4Blue=[[.4675,.5219],[.4753,.5246],[.4842,.5257],[.4689,.5153],[.4712,.5113],[.4672,.5062],[.4860,.5110],[.4792,.4983],[.4842,.4987],[.4837,.4937],[.4823,.4848],[.4915,.4807],[.5017,.4801],[.5045,.4878],[.5092,.4877],[.5060,.4833],[.5171,.4800],[.5191,.4943],[.5221,.5008],[.5048,.5114],[.5125,.5071]];

// Double ring: ring/lissajous parameters (data units)
const ringCenter=[0.49908,0.50115];
const ringRadius=[0.00204,0.00206];
const lagPhase=0.73;
const ringCount=72;
const lissCount=96;

// ---------- PANELS ----------
const RED='#ED1C24', BLUE='#3A4DA0';
function mk(tag,attrs,parent){const e=document.createElementNS('http://www.w3.org/2000/svg',tag);for(const k in attrs)e.setAttribute(k,attrs[k]);if(parent)parent.appendChild(e);return e;}

const lagX=['x(t','end',' \u2212 5\u0394t)'], curX=['x(t','end',')'];
const lagY=['y(t','end',' \u2212 5\u0394t)'], curY=['y(t','end',')'];
const cT=1545,cB=2028,cYp=1587.5,cYk=106700;

const panels=[
 {id:'a1',box:[150.4,592.9,102.7,585.7],xv:.5,xp:323.7,xk:20357,yv:.508,yp:352.7,yk:31250,xt:[.495,.5,.505,.51],yt:[.504,.508,.512,.516],dec:3,xl:curX,yl:curY,ylo:110,series:[[a1Red,RED]]},
 {id:'a2',box:[750,1191.7,103,585],xv:.5,xp:914.7,xk:21833,yv:.505,yp:440.7,yk:26400,xt:[.496,.5,.504,.508,.512],yt:[.5,.505,.51,.515],dec:3,xl:lagX,yl:lagY,ylo:110,series:[[a2Red,RED]]},
 {id:'a3',box:[1350.3,1791.3,103,585],xv:.5,xp:1523.3,xk:20333,yv:.505,yp:440.7,yk:26400,xt:[.495,.5,.505,.51],yt:[.5,.505,.51,.515],dec:3,xl:curX,yl:lagY,ylo:110,series:[[a3Red,RED]]},
 {id:'a4',box:[1950,2392,103,585],xv:.5,xp:2115,xk:21767,yv:.508,yp:352.7,yk:31167,xt:[.496,.5,.504,.508,.512],yt:[.504,.508,.512,.516],dec:3,xl:lagX,yl:curY,ylo:110,series:[[a4Red,RED]]},
 {id:'b1',box:[150,605,830,1312],xv:.49,xp:354.3,xk:8367,yv:.5,yp:1065.7,yk:7100,xt:[.47,.48,.49,.5,.51],yt:[.48,.5,.52],dec:2,xl:curX,yl:curY,ylo:100,series:[[b1Red,RED],[b1Blue,BLUE]]},
 {id:'b2',box:[751,1204.7,830,1312],xv:.48,xp:897,xk:6800,yv:.5,yp:1080.3,yk:7267,xt:[.46,.48,.5,.52],yt:[.48,.5,.52],dec:2,xl:lagX,yl:lagY,ylo:100,series:[[b2Red,RED],[b2Blue,BLUE]]},
 {id:'b3',box:[1352,1805,830,1312],xv:.49,xp:1554.3,xk:8333,yv:.5,yp:1080.3,yk:7267,xt:[.47,.48,.49,.5,.51],yt:[.48,.5,.52],dec:2,xl:curX,yl:lagY,ylo:100,series:[[b3Red,RED],[b3Blue,BLUE]]},
 {id:'b4',box:[1952,2405,830,1312],xv:.48,xp:2097.3,xk:6800,yv:.5,yp:1065.7,yk:7100,xt:[.46,.48,.5,.52],yt:[.48,.5,.52],dec:2,xl:lagX,yl:curY,ylo:100,series:[[b4Red,RED],[b4Blue,BLUE]]},
 {id:'c1',box:[151.7,598,cT,cB],xv:.497,xp:169,xk:98700,yv:.503,yp:cYp,yk:cYk,xt:[.497,.498,.499,.5,.501],yt:[.499,.5,.501,.502,.503],dec:3,xl:curX,yl:curY,ylo:112,ring:'circle'},
 {id:'c2',box:[751,1195,cT,cB],xv:.497,xp:769,xk:98700,yv:.503,yp:cYp,yk:cYk,xt:[.497,.498,.499,.5,.501],yt:[.499,.5,.501,.502,.503],dec:3,xl:lagX,yl:lagY,ylo:112,ring:'circle2'},
 {id:'c3',box:[1352.7,1797.7,cT,cB],xv:.497,xp:1370.5,xk:98400,yv:.503,yp:cYp,yk:cYk,xt:[.497,.498,.499,.5,.501],yt:[.499,.5,.501,.502,.503],dec:3,xl:curX,yl:lagY,ylo:112,ring:'lissA'},
 {id:'c4',box:[1956,2401,cT,cB],xv:.497,xp:1974,xk:98700,yv:.503,yp:cYp,yk:cYk,xt:[.497,.498,.499,.5,.501],yt:[.499,.5,.501,.502,.503],dec:3,xl:lagX,yl:curY,ylo:112,ring:'lissB'}
];

function ringSeries(kind){
  const [cx,cy]=ringCenter,[rx,ry]=ringRadius,ph=lagPhase;
  const red=[],blue=[];
  if(kind==='circle'||kind==='circle2'){
    const off=kind==='circle'?0:1.3;
    for(let i=0;i<ringCount;i++){
      const tr=(i*5+off)*Math.PI/180, tb=(i*5+2.5+off)*Math.PI/180;
      red.push([cx+rx*Math.cos(tr),cy+ry*Math.sin(tr)]);
      blue.push([cx+rx*Math.cos(tb),cy+ry*Math.sin(tb)]);
    }
  } else {
    for(let i=0;i<lissCount;i++){
      const t=i*2*Math.PI/lissCount;
      const up=[cx+rx*Math.cos(t),cy+ry*Math.cos(t-ph)];
      const dn=[cx+rx*Math.cos(t),cy-ry*Math.cos(t+ph)];
      if(kind==='lissA'){red.push(up);blue.push(dn);} else {red.push(dn);blue.push(up);}
    }
  }
  return [[blue,BLUE],[red,RED]];
}

function addLabel(parent,parts,x,y,rot,name){
  const t=mk('text',{'font-size':28,fill:'#111','text-anchor':'middle'},parent);
  if(rot) t.setAttribute('transform','translate('+x+','+y+') rotate(-90)'); else {t.setAttribute('x',x);t.setAttribute('y',y);}
  
  
  const s1=mk('tspan',{},t); s1.textContent=parts[0];
  const s2=mk('tspan',{dy:7,'font-size':20},t); s2.textContent=parts[1];
  const s3=mk('tspan',{dy:-7},t); s3.textContent=parts[2];
}

const root=document.getElementById('panels');
panels.forEach(p=>{
  const [L,R,T,B]=p.box;
  const sx=v=>p.xp+(v-p.xv)*p.xk, sy=v=>p.yp-(v-p.yv)*p.yk;
  const g=mk('g',{},root);
  
  
  mk('rect',{x:L,y:T,width:R-L,height:B-T,fill:'#fff'},g);
  p.xt.forEach(v=>{const l=mk('line',{x1:sx(v),x2:sx(v),y1:T,y2:B,stroke:'#ebebeb','stroke-width':2.4},g);
    
    });
  p.yt.forEach(v=>{const l=mk('line',{x1:L,x2:R,y1:sy(v),y2:sy(v),stroke:'#ebebeb','stroke-width':2.4},g);
    
    });
  const series=p.ring?ringSeries(p.ring):p.series;
  const r=p.ring?5.8:6.1;
  series.forEach(([pts,col])=>{
    const sg=mk('g',{fill:col},g);
    
    
    pts.forEach(([x,y])=>{const c=mk('circle',{cx:sx(x),cy:sy(y),r:r},sg);
      
      });
  });
  const fr=mk('rect',{x:L,y:T,width:R-L,height:B-T,fill:'none',stroke:'#3a3a3a','stroke-width':2.6},g);
  
  
  p.xt.forEach(v=>{
    mk('line',{x1:sx(v),x2:sx(v),y1:B,y2:B+7,stroke:'#333','stroke-width':2.2},g);
    const t=mk('text',{x:sx(v),y:B+32,'font-size':23.5,fill:'#4d4d4d','text-anchor':'middle'},g);
    
    
    t.textContent=v.toFixed(p.dec);
  });
  p.yt.forEach(v=>{
    mk('line',{x1:L-7,x2:L,y1:sy(v),y2:sy(v),stroke:'#333','stroke-width':2.2},g);
    const t=mk('text',{x:L-14,y:sy(v)+8.5,'font-size':23.5,fill:'#4d4d4d','text-anchor':'end'},g);
    
    
    t.textContent=v.toFixed(p.dec);
  });
  addLabel(g,p.xl,(L+R)/2,B+72,false,'x-axis-title');
  addLabel(g,p.yl,L-p.ylo,(T+B)/2,true,'y-axis-title');
});
</script>
</body></html>
